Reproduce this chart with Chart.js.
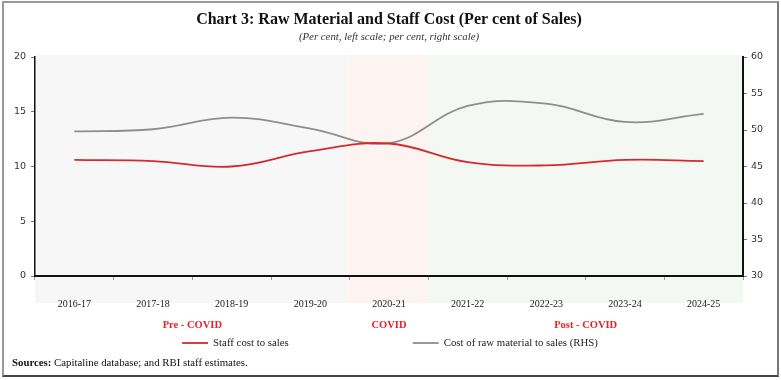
<!DOCTYPE html>
<html>
<head>
<meta charset="utf-8">
<script src="https://cdn.jsdelivr.net/npm/chart.js@4/dist/chart.umd.min.js"></script>
<style>
  html, body { margin: 0; padding: 0; background: #fff; }
  #wrap { position: relative; width: 781px; height: 380px; }
  #c { position: absolute; left: 0; top: 0; }
  #frame { position: absolute; left: 2px; top: 1px; width: 773px; height: 372px;
           border: 2px solid #9a9a9a; border-bottom-color: #444; border-right-color: #777; pointer-events: none; }
</style>
</head>
<body>
<div id="wrap">
  <canvas id="c" width="781" height="380"></canvas>
  <div id="frame"></div>
</div>
<script>
const categories = ['2016-17','2017-18','2018-19','2019-20','2020-21','2021-22','2022-23','2023-24','2024-25'];
const staffCost = [10.6, 10.5, 10.0, 11.4, 12.1, 10.4, 10.1, 10.6, 10.5];
const rawMaterial = [49.8, 50.1, 51.7, 50.2, 48.2, 53.3, 53.6, 51.1, 52.2];
const leftTicks = [0, 20, 5];
const rightTicks = [30, 60, 5];
const phaseLabels = ['Pre - COVID', 'COVID', 'Post - COVID'];
const phaseStart = [0, 4, 5];
const phaseEnd = [3, 4, 8];
const phaseColors = ['#f7f7f7', '#fdf3f1', '#f4f8f2'];
const titleText = 'Chart 3: Raw Material and Staff Cost (Per cent of Sales)';
const subtitleText = '(Per cent, left scale; per cent, right scale)';

const SERIF = '"Liberation Serif", "DejaVu Serif", serif';

const decor = {
  id: 'decor',
  beforeDraw(chart) {
    const ctx = chart.ctx, x = chart.scales.x, a = chart.chartArea;
    const half = (x.getPixelForValue(1) - x.getPixelForValue(0)) / 2;
    ctx.save();
    for (let i = 0; i < phaseLabels.length; i++) {
      const l = x.getPixelForValue(phaseStart[i]) - half;
      const r = x.getPixelForValue(phaseEnd[i]) + half;
      ctx.fillStyle = phaseColors[i];
      ctx.fillRect(l, a.top - 2, r - l, a.bottom - a.top + 29);
    }
    ctx.restore();
  },
  afterDraw(chart) {
    const ctx = chart.ctx, x = chart.scales.x, a = chart.chartArea;
    const half = (x.getPixelForValue(1) - x.getPixelForValue(0)) / 2;
    ctx.save();
    // title
    ctx.textAlign = 'center';
    ctx.textBaseline = 'middle';
    ctx.fillStyle = '#111';
    ctx.font = 'bold 16px ' + SERIF;
    ctx.fillText(titleText, 389, 20);
    ctx.font = 'italic 10.8px ' + SERIF;
    ctx.fillStyle = '#333';
    ctx.fillText(subtitleText, 389, 37);
    // phase labels
    ctx.font = 'bold 10.5px ' + SERIF;
    ctx.fillStyle = '#ee1c25';
    for (let i = 0; i < phaseLabels.length; i++) {
      const l = x.getPixelForValue(phaseStart[i]) - half;
      const r = x.getPixelForValue(phaseEnd[i]) + half;
      ctx.fillText(phaseLabels[i], (l + r) / 2, 325);
    }
    // legend
    ctx.font = '10.8px ' + SERIF;
    const ds = chart.data.datasets;
    const lineW = 26, gapT = 5, gapItems = 124;
    const widths = ds.map(d => lineW + gapT + ctx.measureText(d.label).width);
    const total = widths.reduce((s, w) => s + w, 0) + gapItems * (ds.length - 1);
    let cx = 390 - total / 2;
    const ly = 343;
    ctx.textAlign = 'left';
    ds.forEach((d, i) => {
      ctx.strokeStyle = d.borderColor;
      ctx.lineWidth = 1.8;
      ctx.beginPath(); ctx.moveTo(cx, ly); ctx.lineTo(cx + lineW, ly); ctx.stroke();
      ctx.fillStyle = '#222';
      ctx.fillText(d.label, cx + lineW + gapT, ly);
      cx += widths[i] + gapItems;
    });
    // sources
    ctx.fillStyle = '#111';
    ctx.font = 'bold 10.8px ' + SERIF;
    ctx.fillText('Sources:', 12, 363);
    const sw = ctx.measureText('Sources:').width;
    ctx.font = '10.8px ' + SERIF;
    ctx.fillText(' Capitaline database; and RBI staff estimates.', 12 + sw, 363);
    ctx.restore();
  }
};

new Chart(document.getElementById('c'), {
  type: 'line',
  data: {
    labels: categories,
    datasets: [
      { label: 'Staff cost to sales', data: staffCost, yAxisID: 'y',
        borderColor: '#d42a2f', borderWidth: 1.8, pointRadius: 0, tension: 0.4, fill: false },
      { label: 'Cost of raw material to sales (RHS)', data: rawMaterial, yAxisID: 'y1',
        borderColor: '#8e8e8e', borderWidth: 1.8, pointRadius: 0, tension: 0.4, fill: false }
    ]
  },
  options: {
    responsive: false,
    animation: false,
    devicePixelRatio: 1,
    layout: { padding: { top: 57, left: 0, right: 0, bottom: 0 } },
    plugins: { legend: { display: false }, tooltip: { enabled: false }, title: { display: false } },
    scales: {
      x: {
        type: 'category',
        offset: true,
        grid: { offset: true, drawOnChartArea: false, drawTicks: true, tickLength: 4, tickColor: '#999' },
        border: { color: '#111', width: 2 },
        ticks: { font: { family: SERIF, size: 10 }, color: '#222', padding: 18, maxRotation: 0 },
        afterFit(s) { s.height = 104; }
      },
      y: {
        position: 'left',
        min: leftTicks[0], max: leftTicks[1],
        ticks: { stepSize: leftTicks[2], font: { family: '"DejaVu Sans", sans-serif', size: 9.5 }, color: '#333', padding: 5 },
        grid: { drawOnChartArea: false, tickLength: 4, tickColor: '#777' },
        border: { color: '#111', width: 1.5 },
        afterFit(s) { s.width = 35; }
      },
      y1: {
        position: 'right',
        min: rightTicks[0], max: rightTicks[1],
        ticks: { stepSize: rightTicks[2], font: { family: '"DejaVu Sans", sans-serif', size: 9.5 }, color: '#333', padding: 4 },
        grid: { drawOnChartArea: false, tickLength: 4, tickColor: '#777' },
        border: { color: '#111', width: 2 },
        afterFit(s) { s.width = 38; }
      }
    }
  },
  plugins: [decor]
});
</script>
</body>
</html>
